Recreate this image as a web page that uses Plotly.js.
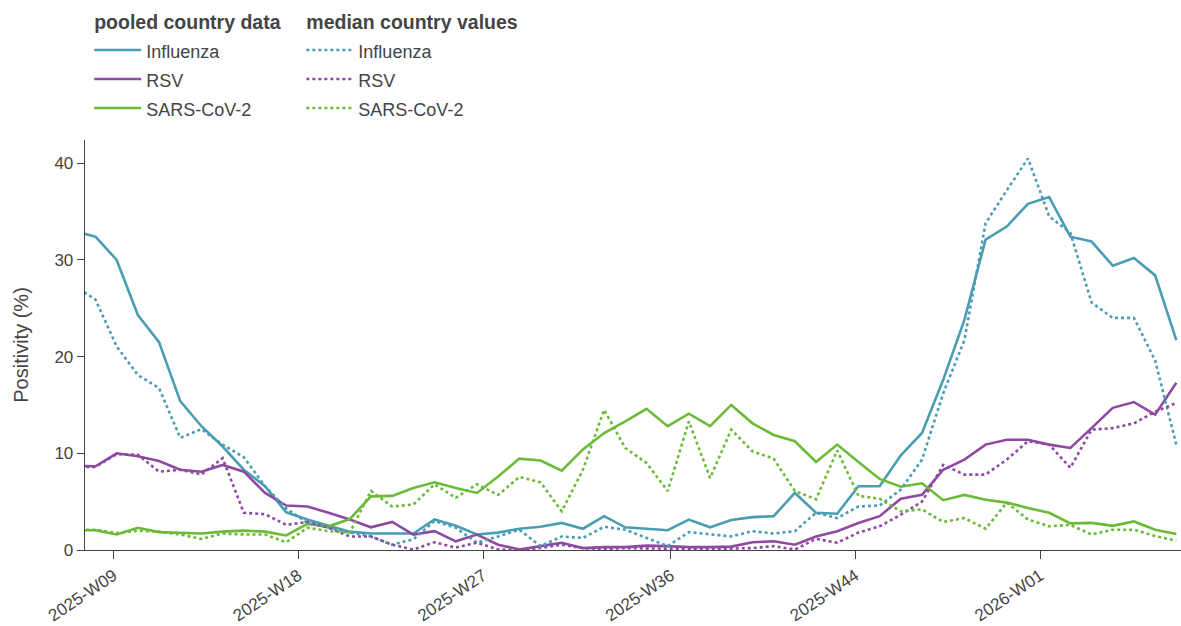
<!DOCTYPE html>
<html>
<head>
<meta charset="utf-8">
<script src="https://cdn.plot.ly/plotly-3.0.1.min.js"></script>
<style>html,body{margin:0;padding:0;background:#fff;}#chart{width:1181px;height:626px;}</style>
</head>
<body>
<div id="chart"></div>
<script>
// ISO weeks (2025-W07 .. 2026-W07)
const weeks = [
 "2025-W07","2025-W08","2025-W09","2025-W10","2025-W11","2025-W12","2025-W13","2025-W14","2025-W15","2025-W16",
 "2025-W17","2025-W18","2025-W19","2025-W20","2025-W21","2025-W22","2025-W23","2025-W24","2025-W25","2025-W26",
 "2025-W27","2025-W28","2025-W29","2025-W30","2025-W31","2025-W32","2025-W33","2025-W34","2025-W35","2025-W36",
 "2025-W37","2025-W38","2025-W39","2025-W40","2025-W41","2025-W42","2025-W43","2025-W44","2025-W45","2025-W46",
 "2025-W47","2025-W48","2025-W49","2025-W50","2025-W51","2025-W52","2026-W01","2026-W02","2026-W03","2026-W04",
 "2026-W05","2026-W06","2026-W07"
];

// pooled country data (%)
const fluPooled = [33.0,32.4,30.0,24.3,21.5,15.4,12.8,10.7,8.3,6.6,3.9,3.15,2.5,1.9,1.7,1.7,1.7,3.15,2.5,1.6,
 1.8,2.2,2.4,2.8,2.2,3.5,2.35,2.2,2.05,3.15,2.35,3.1,3.4,3.5,5.9,3.85,3.75,6.6,6.6,9.8,
 12.1,17.6,23.8,32.1,33.45,35.8,36.5,32.4,31.9,29.4,30.2,28.4,21.7];
const rsvPooled = [8.7,8.66,10.0,9.7,9.2,8.3,8.1,8.8,8.1,5.9,4.6,4.5,3.85,3.15,2.35,2.9,1.6,1.95,0.9,1.6,
 0.55,0.05,0.4,0.75,0.2,0.3,0.3,0.45,0.4,0.3,0.3,0.35,0.8,0.9,0.55,1.4,1.95,2.8,3.5,5.3,
 5.7,8.3,9.35,10.9,11.4,11.4,10.9,10.55,12.6,14.7,15.3,14.0,17.3];
const covPooled = [2.05,2.05,1.6,2.3,1.85,1.8,1.7,1.9,2.0,1.9,1.5,2.7,2.45,3.2,5.55,5.6,6.4,7.0,6.4,5.9,
 7.6,9.45,9.25,8.2,10.4,12.1,13.3,14.6,12.8,14.1,12.8,15.0,13.1,11.9,11.25,9.1,10.9,9.1,7.35,6.55,
 6.9,5.15,5.7,5.2,4.9,4.35,3.85,2.75,2.8,2.5,2.95,2.1,1.65];

// median country values (%)
const fluMedian = [27.35,25.9,21.05,18.1,16.75,11.6,12.5,10.9,9.6,6.6,4.3,2.8,2.3,1.8,1.4,0.55,1.1,3.0,2.3,0.75,
 1.4,2.1,0.4,1.4,1.25,2.4,2.1,1.25,0.4,1.85,1.6,1.4,1.95,1.7,1.95,3.85,3.3,4.5,4.6,6.25,
 9.35,16.2,21.7,33.8,37.2,40.5,34.5,32.8,25.6,24.0,24.0,19.6,10.9];
const rsvMedian = [8.6,8.6,9.9,9.85,8.1,8.3,7.8,9.5,3.85,3.7,2.6,2.9,2.3,1.4,1.4,0.55,0.05,0.8,0.25,0.75,
 0.05,0.0,0.2,0.55,0.2,0.1,0.2,0.15,0.15,0.1,0.1,0.15,0.2,0.4,0.05,1.15,0.75,1.8,2.45,3.65,
 5.0,8.8,7.8,7.8,9.35,11.25,10.9,8.5,12.45,12.6,13.1,14.3,15.2];
const covMedian = [2.1,2.1,1.75,2.0,1.9,1.6,1.15,1.7,1.6,1.6,0.8,2.3,1.95,1.8,6.1,4.5,4.7,6.8,5.4,6.8,
 5.7,7.55,7.0,4.0,8.3,14.5,10.55,9.0,6.1,13.3,7.45,12.45,10.2,9.45,6.1,5.25,10.3,5.6,5.3,4.0,
 4.2,2.9,3.3,2.2,4.9,3.15,2.45,2.6,1.6,2.1,2.1,1.45,0.95];

const tickDates = ["2025-03-01","2025-05-01","2025-07-01","2025-09-01","2025-11-01","2026-01-01"];
const tickLabels = ["2025-W09","2025-W18","2025-W27","2025-W36","2025-W44","2026-W01"];

const seriesNames = ["Influenza","RSV","SARS-CoV-2"];
const groupTitles = ["pooled country data","median country values"];
const colors = ["#4a9db3","#8e4aa0","#6bba38"];

// ISO week label -> Sunday (end of week) as YYYY-MM-DD
function isoWeekEnd(label){
  const [y, w] = label.split("-W").map(Number);
  const jan4 = new Date(Date.UTC(y,0,4));
  const dow = (jan4.getUTCDay()+6)%7; // Monday=0
  const mon1 = new Date(jan4.getTime() - dow*86400000);
  const sun = new Date(mon1.getTime() + ((w-1)*7+6)*86400000);
  return sun.toISOString().slice(0,10);
}
const xDates = weeks.map(isoWeekEnd);

const groups = [[fluPooled, rsvPooled, covPooled],[fluMedian, rsvMedian, covMedian]];
const traces = [];
groups.forEach((grp,g)=>{
  seriesNames.forEach((n,i)=>{
    traces.push({x:xDates, y:grp[i], type:'scatter', mode:'lines',
      name:'<span style="font-size:18px">'+n+'</span>',
      line:{color:colors[i], width:2.6, dash: g===0 ? 'solid' : 'dot'},
      legendgroup:'g'+g,
      legendgrouptitle:{text:groupTitles[g] + (g===0 ? '\u00a0\u00a0' : ''), font:{size:19.5, weight:'bold', color:'#444'}}});
  });
});

const layout = {
  width:1181, height:626,
  margin:{l:85, r:0, t:140, b:76},
  paper_bgcolor:'#fff', plot_bgcolor:'#fff',
  font:{family:'"Liberation Sans", Arial, sans-serif', size:17, color:'#444'},
  showlegend:true,
  legend:{orientation:'h', traceorder:'grouped', xref:'container', yref:'container',
    x:0.0755, xanchor:'left', y:0.9965, yanchor:'top', font:{size:20, color:'#444'}, itemwidth:47,
    bgcolor:'rgba(0,0,0,0)'},
  xaxis:{type:'date', range:['2025-02-19 13:00','2026-02-16 13:00'],
    tickvals:tickDates, ticktext:tickLabels, tickangle:-34,
    showgrid:false, zeroline:false, showline:true, linecolor:'#444', linewidth:1.3,
    ticks:'outside', ticklen:8, tickcolor:'#444', tickfont:{size:17, color:'#444'}},
  yaxis:{range:[0,42.4], tickvals:[0,10,20,30,40],
    showgrid:false, zeroline:false, showline:true, linecolor:'#444', linewidth:1.3,
    ticks:'outside', ticklen:7, tickcolor:'#444', tickfont:{size:17, color:'#444'},
    title:{text:'Positivity (%)', font:{size:20, color:'#444'}, standoff:20}}
};

Plotly.newPlot('chart', traces, layout, {displayModeBar:false, staticPlot:true});
</script>
</body>
</html>
